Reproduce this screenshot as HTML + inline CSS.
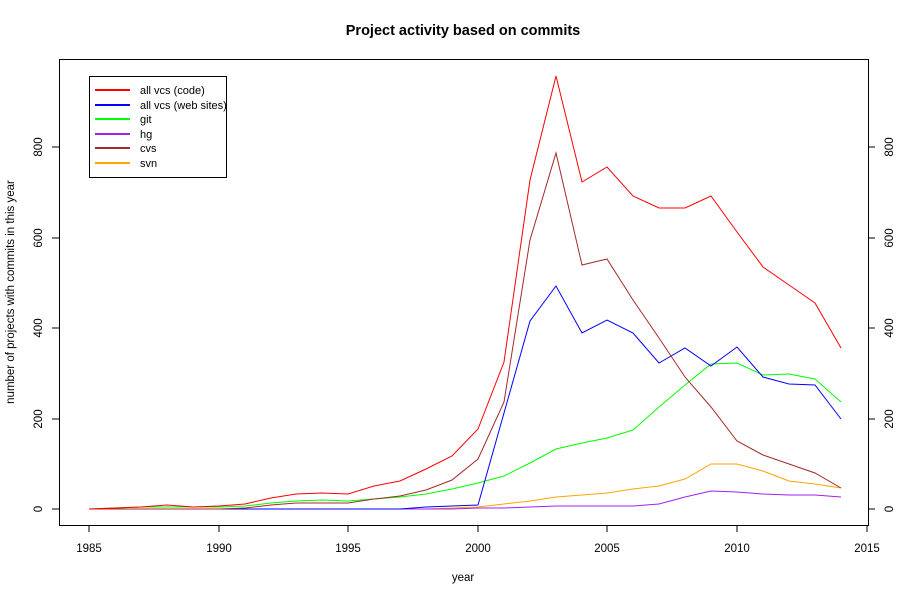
<!DOCTYPE html><html><head><meta charset="utf-8"><style>body{margin:0;background:#fff}svg{font-family:"Liberation Sans",sans-serif}</style></head><body>
<svg width="900" height="600" xmlns="http://www.w3.org/2000/svg">
<rect width="900" height="600" fill="#fff"/>
<text x="463" y="35" text-anchor="middle" font-size="14.5" font-weight="bold">Project activity based on commits</text>
<rect x="59.5" y="59.5" width="809" height="466" fill="none" stroke="#000"/>
<g stroke="#000" fill="none">
<path d="M89 525v7M219 525v7M348 525v7M478 525v7M607 525v7M737 525v7M867 525v7"/>
<path d="M59 509h-7M59 419h-7M59 328h-7M59 238h-7M59 147h-7"/>
<path d="M868 509h7M868 419h7M868 328h7M868 238h7M868 147h7"/>
</g>
<g font-size="11.5" text-anchor="middle">
<text x="89" y="552">1985</text><text x="219" y="552">1990</text><text x="348" y="552">1995</text><text x="478" y="552">2000</text><text x="607" y="552">2005</text><text x="737" y="552">2010</text><text x="867" y="552">2015</text>
<text x="463" y="581">year</text>
<text transform="translate(42,509) rotate(-90)">0</text><text transform="translate(42,419) rotate(-90)">200</text><text transform="translate(42,328) rotate(-90)">400</text><text transform="translate(42,238) rotate(-90)">600</text><text transform="translate(42,147) rotate(-90)">800</text>
<text transform="translate(893,509) rotate(-90)">0</text><text transform="translate(893,419) rotate(-90)">200</text><text transform="translate(893,328) rotate(-90)">400</text><text transform="translate(893,238) rotate(-90)">600</text><text transform="translate(893,147) rotate(-90)">800</text>
<text transform="translate(14,292) rotate(-90)">number of projects with commits in this year</text>
</g>
<g fill="none" stroke-width="1">
<polyline stroke="#ffa500" points="89,509 115,509 141,509 167,509 193,509 219,509 245,509 271,509 296,509 322,509 348,509 374,509 400,509 426,509 452,508 478,507 504,504 530,501 556,497 582,495 607,493 633,489 659,486 685,479 711,464 737,464 763,471 789,481 815,484 841,488"/>
<polyline stroke="#a020f0" points="89,509 115,509 141,509 167,509 193,509 219,509 245,509 271,509 296,509 322,509 348,509 374,509 400,509 426,509 452,509 478,508 504,508 530,507 556,506 582,506 607,506 633,506 659,504 685,497 711,491 737,492 763,494 789,495 815,495 841,497"/>
<polyline stroke="#00ff00" points="89,509 115,508 141,507 167,507 193,507 219,507 245,506 271,503 296,501 322,500 348,501 374,499 400,497 426,494 452,489 478,483 504,476 530,463 556,449 582,443 607,438 633,430 659,407 685,385 711,364 737,363 763,375 789,374 815,379 841,402"/>
<polyline stroke="#0000ff" points="89,509 115,509 141,509 167,509 193,509 219,509 245,509 271,509 296,509 322,509 348,509 374,509 400,509 426,507 452,506 478,505 504,413 530,321 556,286 582,333 607,320 633,333 659,363 685,348 711,366 737,347 763,377 789,384 815,385 841,419"/>
<polyline stroke="#a52a2a" points="89,509 115,509 141,509 167,509 193,509 219,509 245,508 271,505 296,503 322,503 348,503 374,499 400,496 426,490 452,480 478,459 504,402 530,240 556,153 582,265 607,259 633,300 659,338 685,377 711,407 737,441 763,455 789,464 815,473 841,488"/>
<polyline stroke="#ff0000" points="89,509 115,508 141,507 167,505 193,507 219,506 245,504 271,498 296,494 322,493 348,494 374,486 400,481 426,469 452,456 478,429 504,362 530,180 556,76 582,182 607,167 633,196 659,208 685,208 711,196 737,232 763,267 789,285 815,303 841,348"/>
</g>
<rect x="89.5" y="76.5" width="137" height="101" fill="#fff" stroke="#000"/>
<g stroke-width="2">
<line x1="95" y1="90" x2="130" y2="90" stroke="#ff0000"/>
<line x1="95" y1="105" x2="130" y2="105" stroke="#0000ff"/>
<line x1="95" y1="119" x2="130" y2="119" stroke="#00ff00"/>
<line x1="95" y1="134" x2="130" y2="134" stroke="#a020f0"/>
<line x1="95" y1="148" x2="130" y2="148" stroke="#a52a2a"/>
<line x1="95" y1="163" x2="130" y2="163" stroke="#ffa500"/>
</g>
<g font-size="11">
<text x="140" y="94">all vcs (code)</text>
<text x="140" y="109">all vcs (web sites)</text>
<text x="140" y="123">git</text>
<text x="140" y="138">hg</text>
<text x="140" y="152">cvs</text>
<text x="140" y="167">svn</text>
</g>
</svg>
</body></html>
